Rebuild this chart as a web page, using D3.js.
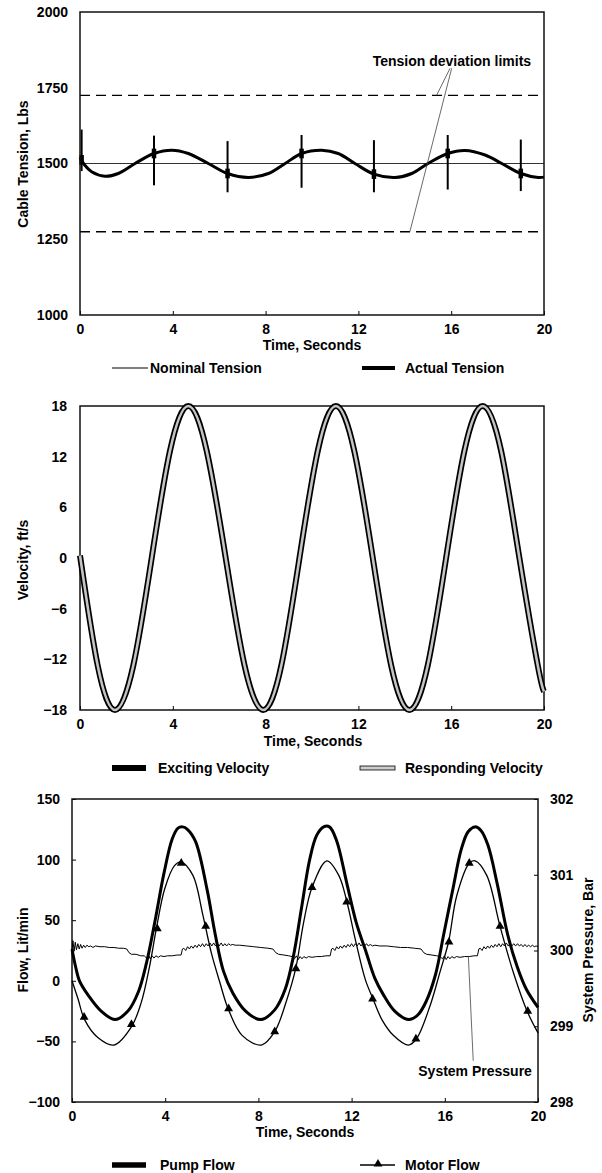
<!DOCTYPE html>
<html>
<head>
<meta charset="utf-8">
<script src="https://cdn.jsdelivr.net/npm/d3@7"></script>
<style>
  body { margin: 0; background: #fff; }
  svg { display: block; font-family: "Liberation Sans", Arial, sans-serif; }
  .tick text { font-size: 14px; font-weight: bold; fill: #000; }
  .lbl { font-size: 14px; font-weight: bold; fill: #000; }
  .ytitle { font-size: 14px; font-weight: bold; fill: #000; }
</style>
</head>
<body>
<svg id="chart" width="602" height="1173"></svg>
<script>
// ---- data ----
const timeTicks = [0, 4, 8, 12, 16, 20];

// panel 1: cable tension
const tensionTicks = [1000, 1250, 1500, 1750, 2000];
const nominalTension = 1500;
const tensionLimits = [1275, 1725];
const tensionT = [0, 0.2, 0.5, 1.08, 1.65, 2.37, 3.19, 3.95, 4.67, 5.53, 6.36, 7.26, 8.12, 8.84, 9.55,
  10.42, 11.13, 11.85, 12.67, 13.58, 14.3, 15.0, 15.85, 16.59, 17.46, 18.18, 19.0, 19.75, 20];
const tensionV = [1520, 1495, 1473, 1458, 1467, 1500, 1533, 1544, 1533, 1500, 1467, 1454, 1467, 1500, 1533,
  1544, 1533, 1500, 1465, 1454, 1467, 1500, 1533, 1543, 1528, 1500, 1467, 1454, 1455];
// short transients where the tension rings
const spikeT = [0.07, 3.19, 6.36, 9.55, 12.67, 15.85, 19.0];
const spikeHi = [1612, 1592, 1574, 1594, 1577, 1594, 1579];
const spikeLo = [1475, 1428, 1405, 1420, 1405, 1414, 1409];
const spikeMid = [1512, 1533, 1467, 1533, 1465, 1533, 1467];

// panel 2: velocity
const velTicks = [-18, -12, -6, 0, 6, 12, 18];
const velT = [0, 0.76, 1.51, 2.3, 3.09, 3.88, 4.67, 5.46, 6.28, 7.09, 7.9, 8.68, 9.46, 10.25, 11.03,
  11.82, 12.62, 13.41, 14.2, 14.99, 15.78, 16.57, 17.36, 18.15, 18.94, 19.73, 20];
const excitingV = [0.3, -12.7, -18, -12.7, 0, 12.7, 18, 12.7, 0, -12.7, -18, -12.7, 0, 12.7, 18,
  12.7, 0, -12.7, -18, -12.7, 0, 12.7, 18, 12.7, 0, -12.7, -15.8];
// the responding velocity sits right on top of the exciting one
const respondingV = excitingV;

// panel 3: flows and pressure
const flowTicks = [-100, -50, 0, 50, 100, 150];
const pressTicks = [298, 299, 300, 301, 302];
const pumpT = [0, 0.15, 0.32, 0.7, 1.25, 1.85, 2.4, 2.85, 3.2, 3.55, 3.95, 4.3, 4.55, 4.75, 4.95,
  5.3, 5.8, 6.15, 6.5, 6.9, 7.45, 8.1, 8.7, 9.15, 9.5, 9.85, 10.2, 10.5, 10.8, 11.05,
  11.35, 11.8, 12.2, 12.6, 13.0, 13.35, 13.85, 14.45, 14.85, 15.2, 15.6, 15.95, 16.35, 16.7, 17.0,
  17.3, 17.55, 17.85, 18.25, 18.7, 19.1, 19.5, 20];
const pumpV = [26, 12, 0, -12, -25, -32, -25, -9, 15, 48, 89, 117, 126, 127, 125,
  115, 75, 38, 8, -10, -25, -32, -24, -7, 20, 60, 100, 120, 127, 127,
  116, 80, 48, 25, 2, -11, -25, -32, -28, -17, 5, 38, 76, 108, 123,
  127, 124, 112, 80, 38, 12, -7, -22];
const motorT = [0, 0.26, 0.54, 1.12, 1.8, 2.55, 2.97, 3.33, 3.62, 3.98, 4.4, 4.69, 5.19, 5.62, 5.98,
  6.34, 6.7, 7.3, 8.13, 8.7, 9.23, 9.6, 9.94, 10.3, 10.94, 11.45, 11.8, 12.16, 12.59, 12.92,
  13.3, 13.79, 14.43, 14.78, 15.36, 15.79, 16.16, 16.51, 17.05, 17.3, 17.8, 18.37, 18.94, 19.53, 20];
const motorV = [0, -15, -32, -47, -53, -38, -18, 12, 43, 76, 95, 98, 87, 54, 23,
  -1, -23, -45, -53, -42, -15, 10, 48, 77, 99, 87, 65, 34, 1, -15,
  -32, -45, -53, -48, -21, 7, 32, 70, 97, 99, 87, 45, 7, -25, -43];
const motorMarkT = [0.52, 2.55, 3.66, 4.69, 5.74, 6.72, 8.7, 9.61, 10.3, 11.79, 12.9, 14.76, 16.18, 17.05, 18.37, 19.56];
const motorMarkV = [-30, -36, 43, 97, 45, -23, -42, 10, 77, 65, -15, -48, 32, 97, 45, -25];
// [time, bar]
const pressure = [
  [0, 300.0], [0.04, 300.13], [0.09, 299.99], [0.14, 300.11], [0.19, 300.01], [0.25, 300.09], [0.31, 300.02],
  [0.37, 300.08], [0.43, 300.03], [0.5, 300.07], [0.57, 300.04], [0.64, 300.07], [0.72, 300.05],
  [0.8, 300.06], [0.9, 300.04], [1.0, 300.06], [1.2, 300.05], [1.4, 300.05], [1.6, 300.04], [1.8, 300.04],
  [2.0, 300.03], [2.2, 300.03], [2.35, 300.02],
  [2.45, 299.97], [2.55, 299.95], [2.75, 299.95], [2.95, 299.93], [3.1, 299.93],
  [3.2, 299.9], [3.28, 299.94], [3.36, 299.89], [3.44, 299.93], [3.52, 299.9], [3.6, 299.93], [3.7, 299.91],
  [3.8, 299.93], [3.95, 299.92], [4.1, 299.93], [4.3, 299.93], [4.5, 299.94], [4.68, 299.94],
  [4.74, 300.02], [4.8, 300.03],
  [4.88, 300.0], [4.96, 300.05], [5.04, 300.02], [5.12, 300.06], [5.2, 300.03], [5.28, 300.07], [5.36, 300.04],
  [5.44, 300.08], [5.52, 300.05], [5.6, 300.09], [5.68, 300.05], [5.76, 300.09], [5.84, 300.06], [5.92, 300.1],
  [6.0, 300.06], [6.08, 300.1], [6.16, 300.06], [6.24, 300.09], [6.32, 300.06], [6.4, 300.1], [6.48, 300.06],
  [6.56, 300.09], [6.64, 300.06], [6.72, 300.09], [6.8, 300.07], [6.9, 300.08], [7.0, 300.07], [7.2, 300.07],
  [7.5, 300.06], [7.8, 300.05], [8.1, 300.04], [8.4, 300.03], [8.62, 300.02],
  [8.75, 299.97], [8.87, 299.95], [9.1, 299.94], [9.3, 299.93], [9.45, 299.92],
  [9.55, 299.89], [9.63, 299.93], [9.71, 299.88], [9.79, 299.92], [9.87, 299.89], [9.95, 299.92], [10.05, 299.9],
  [10.15, 299.92], [10.3, 299.91], [10.5, 299.92], [10.7, 299.92], [10.9, 299.93], [11.08, 299.93],
  [11.14, 300.02], [11.2, 300.03],
  [11.28, 300.0], [11.36, 300.05], [11.44, 300.02], [11.52, 300.06], [11.6, 300.03], [11.68, 300.07], [11.76, 300.04],
  [11.84, 300.08], [11.92, 300.05], [12.0, 300.09], [12.08, 300.05], [12.16, 300.09], [12.24, 300.06], [12.32, 300.1],
  [12.4, 300.06], [12.48, 300.09], [12.56, 300.06], [12.64, 300.09], [12.72, 300.06], [12.8, 300.08], [12.9, 300.06],
  [13.0, 300.07], [13.2, 300.06], [13.5, 300.06], [13.8, 300.05], [14.1, 300.04], [14.4, 300.04], [14.7, 300.03],
  [14.98, 300.02],
  [15.1, 299.97], [15.22, 299.95], [15.45, 299.94], [15.65, 299.93], [15.8, 299.92],
  [15.9, 299.89], [15.98, 299.93], [16.06, 299.88], [16.14, 299.92], [16.22, 299.89], [16.3, 299.92], [16.4, 299.9],
  [16.5, 299.92], [16.65, 299.91], [16.85, 299.92], [17.05, 299.92], [17.25, 299.93], [17.4, 299.93],
  [17.46, 300.02], [17.52, 300.03],
  [17.6, 300.0], [17.68, 300.05], [17.76, 300.02], [17.84, 300.06], [17.92, 300.03], [18.0, 300.07], [18.08, 300.04],
  [18.16, 300.08], [18.24, 300.05], [18.32, 300.09], [18.4, 300.05], [18.48, 300.09], [18.56, 300.06], [18.64, 300.1],
  [18.72, 300.06], [18.8, 300.09], [18.88, 300.06], [18.96, 300.09], [19.04, 300.06], [19.12, 300.09], [19.2, 300.06],
  [19.28, 300.08], [19.36, 300.05], [19.44, 300.08], [19.52, 300.05], [19.6, 300.07], [19.68, 300.05], [19.76, 300.07],
  [19.84, 300.05], [19.92, 300.06], [20, 300.05]
];

// ---- layout ----
const width = 602, height = 1173;
const p1 = {left: 80, right: 544, top: 12, bottom: 315};
const p2 = {left: 80, right: 544, top: 406, bottom: 710};
const p3 = {left: 72, right: 538, top: 799, bottom: 1102};
const fmt = d3.format('d');

const svg = d3.select('#chart');
svg.append('rect').attr('width', width).attr('height', height).attr('fill', '#fff');

// index based line so the T and V arrays stay separate
function seriesPath(x, y, ts, vs, curve) {
  return d3.line()
    .x(i => x(ts[i]))
    .y(i => y(vs[i]))
    .curve(curve)(d3.range(ts.length));
}

function styleAxis(g) {
  g.select('.domain').remove();
  g.selectAll('.tick line').attr('stroke', '#000').attr('stroke-width', 1);
}

function frame(p) {
  svg.append('rect')
    .attr('x', p.left).attr('y', p.top)
    .attr('width', p.right - p.left).attr('height', p.bottom - p.top)
    .attr('fill', 'none').attr('stroke', '#111').attr('stroke-width', 1.5);
}

function xTitle(x, y) {
  svg.append('text').attr('class', 'lbl').attr('x', x).attr('y', y)
    .attr('text-anchor', 'middle').text('Time, Seconds');
}

function yTitle(x, y, txt) {
  svg.append('text').attr('class', 'ytitle')
    .attr('transform', `translate(${x},${y}) rotate(-90)`)
    .attr('dy', '0.35em').attr('text-anchor', 'middle').text(txt);
}

function legendText(x, y, txt) {
  svg.append('text').attr('class', 'lbl').attr('x', x).attr('y', y)
    .attr('dy', '0.35em').text(txt);
}

// ===================== panel 1 =====================
const x1 = d3.scaleLinear().domain([0, 20]).range([p1.left, p1.right]);
const y1 = d3.scaleLinear().domain([1000, 2000]).range([p1.bottom, p1.top]);

svg.append('g').attr('transform', `translate(0,${p1.bottom})`)
  .call(d3.axisBottom(x1).tickValues(timeTicks).tickFormat(fmt).tickSize(-4).tickPadding(9))
  .call(styleAxis);
svg.append('g').attr('transform', `translate(${p1.left},0)`)
  .call(d3.axisLeft(y1).tickValues(tensionTicks).tickFormat(fmt).tickSize(0).tickPadding(12))
  .call(styleAxis);

// deviation limits
svg.append('g').selectAll('line').data(tensionLimits).join('line')
  .attr('x1', x1(0)).attr('x2', x1(20))
  .attr('y1', d => y1(d)).attr('y2', d => y1(d))
  .attr('stroke', '#000').attr('stroke-width', 1.4).attr('stroke-dasharray', '10,6');

// nominal
svg.append('line')
  .attr('x1', x1(0)).attr('x2', x1(20))
  .attr('y1', y1(nominalTension)).attr('y2', y1(nominalTension))
  .attr('stroke', '#333').attr('stroke-width', 1.2);

// actual
svg.append('path')
  .attr('d', seriesPath(x1, y1, tensionT, tensionV, d3.curveCatmullRom))
  .attr('fill', 'none').attr('stroke', '#000').attr('stroke-width', 3);

const spikes = d3.range(spikeT.length);
svg.append('g').selectAll('line').data(spikes).join('line')
  .attr('x1', i => x1(spikeT[i])).attr('x2', i => x1(spikeT[i]))
  .attr('y1', i => y1(spikeHi[i])).attr('y2', i => y1(spikeLo[i]))
  .attr('stroke', '#000').attr('stroke-width', 2);
svg.append('g').selectAll('line').data(spikes).join('line')
  .attr('x1', i => x1(spikeT[i])).attr('x2', i => x1(spikeT[i]))
  .attr('y1', i => y1(spikeMid[i] + 16)).attr('y2', i => y1(spikeMid[i] - 16))
  .attr('stroke', '#000').attr('stroke-width', 4.5);

// annotation
const leaders1 = [[15.95, 1814, 15.37, 1725], [16.02, 1814, 14.22, 1275]];
svg.append('g').selectAll('line').data(leaders1).join('line')
  .attr('x1', d => x1(d[0])).attr('y1', d => y1(d[1]))
  .attr('x2', d => x1(d[2])).attr('y2', d => y1(d[3]))
  .attr('stroke', '#444').attr('stroke-width', 0.8);
svg.append('text').attr('class', 'lbl')
  .attr('x', x1(16.03)).attr('y', y1(1822)).attr('text-anchor', 'middle')
  .text('Tension deviation limits');

frame(p1);
xTitle(312, 350);
yTitle(23, 164, 'Cable Tension, Lbs');

// legend 1
svg.append('line').attr('x1', 112).attr('x2', 148).attr('y1', 368).attr('y2', 368)
  .attr('stroke', '#000').attr('stroke-width', 1.2);
legendText(150, 368, 'Nominal Tension');
svg.append('line').attr('x1', 362).attr('x2', 395).attr('y1', 368).attr('y2', 368)
  .attr('stroke', '#000').attr('stroke-width', 4);
legendText(405, 368, 'Actual Tension');

// ===================== panel 2 =====================
const x2 = d3.scaleLinear().domain([0, 20]).range([p2.left, p2.right]);
const y2 = d3.scaleLinear().domain([-18, 18]).range([p2.bottom, p2.top]);

svg.append('g').attr('transform', `translate(0,${p2.bottom})`)
  .call(d3.axisBottom(x2).tickValues(timeTicks).tickFormat(fmt).tickSize(-4).tickPadding(9))
  .call(styleAxis);
svg.append('g').attr('transform', `translate(${p2.left},0)`)
  .call(d3.axisLeft(y2).tickValues(velTicks).tickFormat(fmt).tickSize(0).tickPadding(13))
  .call(styleAxis);

frame(p2);

svg.append('path')
  .attr('d', seriesPath(x2, y2, velT, excitingV, d3.curveNatural))
  .attr('fill', 'none').attr('stroke', '#000').attr('stroke-width', 6);
svg.append('path')
  .attr('d', seriesPath(x2, y2, velT, respondingV, d3.curveNatural))
  .attr('fill', 'none').attr('stroke', '#c4c4c4').attr('stroke-width', 2.6);

xTitle(313, 746);
yTitle(23, 560, 'Velocity, ft/s');

// legend 2
svg.append('line').attr('x1', 112).attr('x2', 146).attr('y1', 768).attr('y2', 768)
  .attr('stroke', '#000').attr('stroke-width', 6);
legendText(158, 768, 'Exciting Velocity');
svg.append('rect').attr('x', 360).attr('y', 766).attr('width', 35).attr('height', 4)
  .attr('fill', '#ccc').attr('stroke', '#000').attr('stroke-width', 0.8);
legendText(405, 768, 'Responding Velocity');

// ===================== panel 3 =====================
const x3 = d3.scaleLinear().domain([0, 20]).range([p3.left, p3.right]);
const y3 = d3.scaleLinear().domain([-100, 150]).range([p3.bottom, p3.top]);
const yP = d3.scaleLinear().domain([298, 302]).range([p3.bottom, p3.top]);

svg.append('g').attr('transform', `translate(0,${p3.bottom})`)
  .call(d3.axisBottom(x3).tickValues(timeTicks).tickFormat(fmt).tickSize(-4).tickPadding(9))
  .call(styleAxis);
svg.append('g').attr('transform', `translate(${p3.left},0)`)
  .call(d3.axisLeft(y3).tickValues(flowTicks).tickFormat(fmt).tickSize(-4).tickPadding(12))
  .call(styleAxis);
svg.append('g').attr('transform', `translate(${p3.right},0)`)
  .call(d3.axisRight(yP).tickValues(pressTicks).tickFormat(fmt).tickSize(-4).tickPadding(12))
  .call(styleAxis);

frame(p3);

// system pressure (right axis)
svg.append('path')
  .attr('d', d3.line().x(d => x3(d[0])).y(d => yP(d[1]))(pressure))
  .attr('fill', 'none').attr('stroke', '#000').attr('stroke-width', 1);

svg.append('path')
  .attr('d', seriesPath(x3, y3, pumpT, pumpV, d3.curveCatmullRom))
  .attr('fill', 'none').attr('stroke', '#000').attr('stroke-width', 3);

svg.append('path')
  .attr('d', seriesPath(x3, y3, motorT, motorV, d3.curveCatmullRom))
  .attr('fill', 'none').attr('stroke', '#000').attr('stroke-width', 1.3);

const tri = d3.symbol().type(d3.symbolTriangle).size(34);
svg.append('g').selectAll('path').data(d3.range(motorMarkT.length)).join('path')
  .attr('d', tri)
  .attr('transform', i => `translate(${x3(motorMarkT[i])},${y3(motorMarkV[i])})`)
  .attr('fill', '#000');

// annotation
const leader3 = [17.01, 20.6, 17.22, -66];
svg.append('line')
  .attr('x1', x3(leader3[0])).attr('y1', y3(leader3[1]))
  .attr('x2', x3(leader3[2])).attr('y2', y3(leader3[3]))
  .attr('stroke', '#444').attr('stroke-width', 0.8);
svg.append('text').attr('class', 'lbl')
  .attr('x', x3(17.3)).attr('y', y3(-74.5)).attr('dy', '0.35em').attr('text-anchor', 'middle')
  .text('System Pressure');

xTitle(305, 1137);
yTitle(23, 950, 'Flow, Lit/min');
yTitle(588, 950, 'System Pressure, Bar');

// legend 3
svg.append('line').attr('x1', 112).attr('x2', 146).attr('y1', 1165).attr('y2', 1165)
  .attr('stroke', '#000').attr('stroke-width', 5.5);
legendText(160, 1165, 'Pump Flow');
svg.append('line').attr('x1', 360).attr('x2', 395).attr('y1', 1165).attr('y2', 1165)
  .attr('stroke', '#000').attr('stroke-width', 1.3);
svg.append('path').attr('d', tri).attr('transform', 'translate(378,1164)').attr('fill', '#000');
legendText(405, 1165, 'Motor Flow');
</script>
</body>
</html>
